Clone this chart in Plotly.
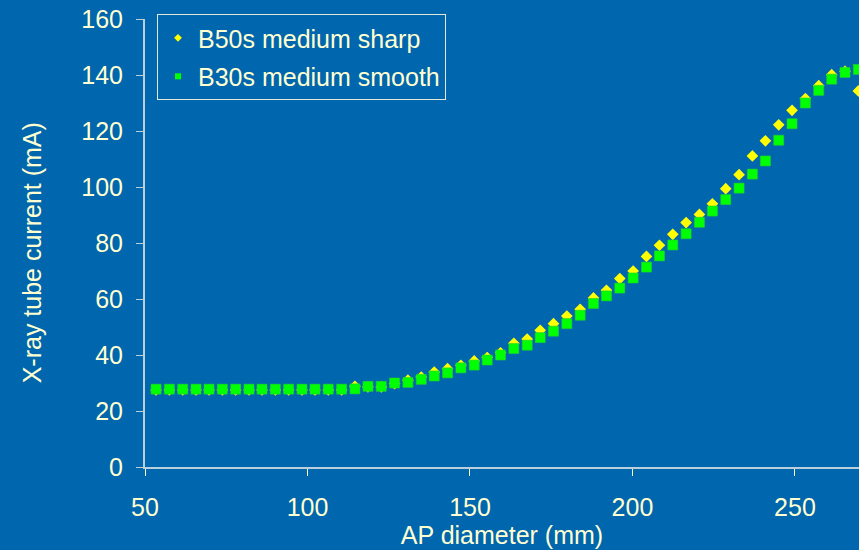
import plotly.graph_objects as go

# AP diameter (mm)
ap_diameter = [53.4, 57.5, 61.6, 65.7, 69.7, 73.8, 77.9, 82.0, 86.0, 90.1,
               94.2, 98.3, 102.3, 106.4, 110.5, 114.6, 118.6, 122.7, 126.8, 130.9,
               135.0, 139.0, 143.1, 147.2, 151.3, 155.3, 159.4, 163.5, 167.6, 171.6,
               175.7, 179.8, 183.9, 188.0, 192.0, 196.1, 200.2, 204.3, 208.3, 212.4,
               216.5, 220.6, 224.6, 228.7, 232.8, 236.9, 240.9, 245.0, 249.1, 253.2,
               257.3, 261.3, 265.4, 269.5]

# X-ray tube current (mA)
b50s_sharp = [27.5, 27.5, 27.5, 27.5, 27.5, 27.5, 27.5, 27.5, 27.5, 27.5,
              27.5, 27.5, 27.5, 27.5, 27.5, 28.8, 28.6, 28.6, 29.8, 31.0,
              32.1, 33.9, 35.1, 36.3, 37.9, 39.1, 40.8, 44.2, 45.7, 48.8,
              51.2, 53.9, 56.3, 60.4, 63.1, 67.3, 70.0, 75.2, 79.2, 83.1,
              87.3, 90.2, 94.0, 99.4, 104.4, 111.1, 116.5, 122.2, 127.4, 131.6,
              136.2, 140.1, 141.3, 134.3]

b30s_smooth = [27.8, 27.8, 27.8, 27.8, 27.8, 27.8, 27.8, 27.8, 27.8, 27.8,
               27.8, 27.8, 27.8, 27.8, 27.8, 27.9, 28.8, 28.8, 30.0, 30.2,
               31.3, 32.5, 33.6, 35.4, 36.4, 38.2, 40.0, 42.3, 43.5, 46.2,
               48.5, 51.2, 54.2, 58.4, 61.1, 63.9, 67.5, 71.4, 75.4, 79.3,
               83.3, 87.4, 91.4, 95.5, 99.6, 104.6, 109.3, 116.7, 122.6, 130.0,
               134.5, 138.5, 140.9, 142.0]

series_names = ["B50s medium sharp", "B30s medium smooth"]
x_ticks = [50, 100, 150, 200, 250]
y_ticks = [0, 20, 40, 60, 80, 100, 120, 140, 160]
x_title = "AP diameter (mm)"
y_title = "X-ray tube current (mA)"

BG = "#0066AD"
TXT = "#FFFFD2"
AXC = "#B9CFDC"
FONT = "Liberation Sans, Arial, sans-serif"

fig = go.Figure()
fig.add_trace(go.Scatter(x=ap_diameter, y=b50s_sharp, mode="markers", showlegend=False,
                         marker=dict(symbol="diamond", size=9, color="#FFFF00",
                                     line=dict(width=0))))
fig.add_trace(go.Scatter(x=ap_diameter, y=b30s_smooth, mode="markers", showlegend=False,
                         marker=dict(symbol="square", size=10, color="#00FF00",
                                     line=dict(width=0.6, color="#22CC33"))))
# legend entries
fig.add_trace(go.Scatter(x=[None], y=[None], mode="markers", name=series_names[0],
                         legendgroup="a",
                         marker=dict(symbol="diamond", size=6, color="#FFFF00")))
fig.add_trace(go.Scatter(x=[None], y=[None], mode="markers", name=series_names[1],
                         legendgroup="b",
                         marker=dict(symbol="square", size=6, color="#00FF00")))

fig.update_layout(
    width=859, height=550,
    margin=dict(l=145, r=0, t=19, b=83),
    paper_bgcolor=BG, plot_bgcolor=BG,
    font=dict(family=FONT, size=25, color=TXT),
    showlegend=True,
    legend=dict(x=0.0168, y=1.011, xanchor="left", yanchor="top",
                bgcolor="rgba(0,0,0,0)", bordercolor="#E4E8D8", borderwidth=1,
                font=dict(size=25, color=TXT), tracegroupgap=3,
                itemsizing="trace"),
    xaxis=dict(range=[50, 269.7], tickvals=x_ticks, ticks="outside", ticklen=7,
               tickcolor=TXT, showline=True, linecolor=AXC, linewidth=2,
               showgrid=False, zeroline=False, ticklabelstandoff=10,
               title=dict(text=x_title, standoff=2,
                          font=dict(size=25, color=TXT))),
    yaxis=dict(range=[0, 160], tickvals=y_ticks, ticks="outside", ticklen=7,
               tickcolor=AXC, showline=True, linecolor=AXC, linewidth=2,
               showgrid=False, zeroline=False, ticklabelstandoff=8),
    annotations=[dict(text=y_title, textangle=-90, xref="paper", yref="paper",
                      x=-0.157, y=0.479, xanchor="center", yanchor="middle",
                      showarrow=False, font=dict(size=25, color=TXT))],
)

fig.write_html("out.html")
